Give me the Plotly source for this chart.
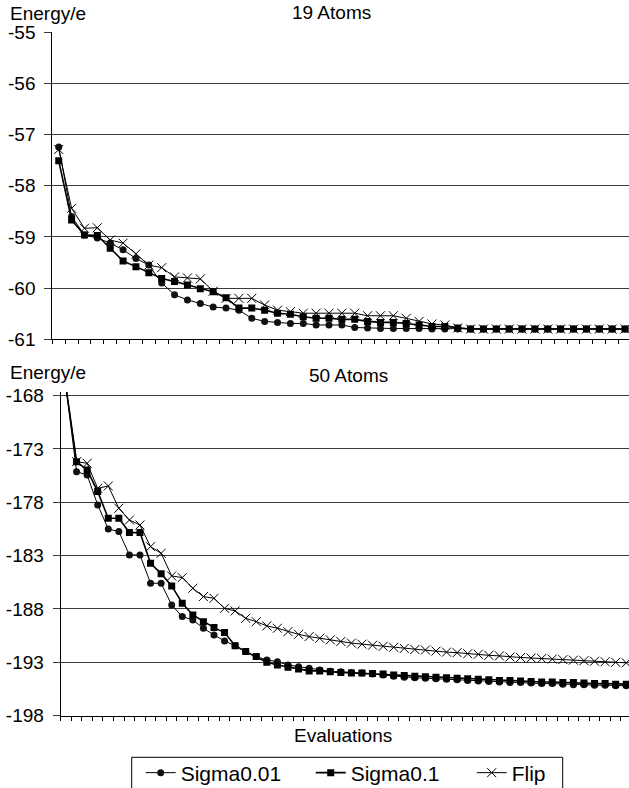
import plotly.graph_objects as go

W, H = 629, 788

# ---------------- data ----------------
evals_19 = list(range(45))
sigma001_19 = [-57.24, -58.60, -58.96, -59.02, -59.12, -59.25, -59.42, -59.55, -59.90, -60.13,
               -60.23, -60.30, -60.37, -60.39, -60.43, -60.59, -60.65, -60.67, -60.69, -60.69,
               -60.72, -60.72, -60.72, -60.77, -60.78, -60.79, -60.79, -60.79, -60.79, -60.80,
               -60.80, -60.80, -60.80, -60.80, -60.80, -60.80, -60.80, -60.80, -60.80, -60.80,
               -60.80, -60.80, -60.80, -60.80, -60.80]
sigma01_19 = [-57.51, -58.67, -58.96, -58.97, -59.22, -59.47, -59.58, -59.70, -59.81, -59.87,
              -59.94, -60.01, -60.07, -60.19, -60.39, -60.39, -60.43, -60.49, -60.51, -60.56,
              -60.59, -60.59, -60.61, -60.61, -60.65, -60.67, -60.67, -60.69, -60.72, -60.75,
              -60.75, -60.78, -60.80, -60.80, -60.80, -60.80, -60.80, -60.80, -60.80, -60.80,
              -60.80, -60.80, -60.80, -60.80, -60.80]
flip_19 = [-57.29, -58.44, -58.83, -58.82, -59.06, -59.12, -59.33, -59.55, -59.60, -59.78,
           -59.80, -59.82, -60.06, -60.20, -60.20, -60.20, -60.33, -60.43, -60.46, -60.49,
           -60.49, -60.49, -60.49, -60.49, -60.54, -60.54, -60.54, -60.59, -60.65, -60.70,
           -60.72, -60.78, -60.80, -60.80, -60.80, -60.80, -60.80, -60.80, -60.80, -60.80,
           -60.80, -60.80, -60.80, -60.80, -60.80]

evals_50 = list(range(54))
sigma001_50 = [-167.2, -175.13, -175.44, -178.25, -180.50, -180.75, -182.94, -182.94, -185.59, -185.59,
               -187.63, -188.72, -189.03, -189.81, -190.44, -191.00, -191.44, -192.00, -192.47, -192.78,
               -192.94, -193.25, -193.41, -193.56, -193.72, -193.85, -193.90, -193.95, -194.00, -194.10,
               -194.20, -194.30, -194.40, -194.45, -194.50, -194.55, -194.60, -194.65, -194.70, -194.75,
               -194.80, -194.85, -194.90, -194.90, -194.95, -195.00, -195.00, -195.05, -195.10, -195.10,
               -195.15, -195.15, -195.20, -195.20]
sigma01_50 = [-167.2, -174.19, -174.97, -177.00, -179.50, -179.50, -180.84, -180.84, -183.72, -184.69,
              -185.84, -187.47, -188.56, -189.19, -189.75, -190.22, -191.44, -192.00, -192.47, -193.00,
              -193.25, -193.47, -193.62, -193.81, -193.81, -193.90, -193.95, -194.00, -194.00, -194.05,
              -194.10, -194.20, -194.25, -194.30, -194.35, -194.40, -194.45, -194.50, -194.55, -194.60,
              -194.65, -194.70, -194.70, -194.75, -194.80, -194.85, -194.85, -194.90, -194.90, -194.95,
              -195.00, -195.00, -195.05, -195.05]
flip_50 = [-167.2, -174.19, -174.34, -176.69, -176.47, -178.56, -179.66, -180.13, -182.16, -182.78,
           -184.91, -185.06, -186.06, -186.84, -187.00, -187.94, -188.19, -188.88, -189.19, -189.59,
           -189.81, -190.13, -190.38, -190.59, -190.75, -190.90, -191.05, -191.20, -191.30, -191.40,
           -191.50, -191.60, -191.70, -191.80, -191.85, -191.95, -192.05, -192.10, -192.20, -192.25,
           -192.35, -192.40, -192.50, -192.55, -192.60, -192.65, -192.70, -192.75, -192.80, -192.85,
           -192.90, -192.95, -193.00, -193.05]

series_names = ["Sigma0.01", "Sigma0.1", "Flip"]
y_ticks_19 = [-61, -60, -59, -58, -57, -56, -55]
y_ticks_50 = [-198, -193, -188, -183, -178, -173, -168]

FONT = "Liberation Sans, Arial, sans-serif"


def px_x(p):
    return p / W


def px_y(p):
    return 1 - p / H


styles = [
    dict(mode="lines+markers", line=dict(color="#000", width=1),
         marker=dict(symbol="circle", size=7, color="#111")),
    dict(mode="lines+markers", line=dict(color="#000", width=1.6),
         marker=dict(symbol="square", size=7, color="#000")),
    dict(mode="lines+markers", line=dict(color="#000", width=1),
         marker=dict(symbol="x-thin", size=9, line=dict(color="#000", width=1))),
]
legend_ids = ["legend", "legend2", "legend3"]
# left edge of each legend entry (text starts ~41 px to the right)
legend_left_px = [140.7, 310.7, 471.7]

fig = go.Figure()
for name, ys, st, lg in zip(series_names, [sigma001_19, sigma01_19, flip_19], styles, legend_ids):
    fig.add_trace(go.Scatter(x=evals_19, y=ys, name=name, xaxis="x", yaxis="y",
                             showlegend=True, legend=lg, **st))
for name, ys, st in zip(series_names, [sigma001_50, sigma01_50, flip_50], styles):
    fig.add_trace(go.Scatter(x=evals_50, y=ys, name=name, xaxis="x2", yaxis="y2",
                             showlegend=False, **st))

axis_common = dict(showline=True, linecolor="#000", linewidth=1, zeroline=False,
                   tickfont=dict(family=FONT, size=19, color="#000"))

legend_common = dict(orientation="h", yanchor="middle", xanchor="left",
                     y=px_y(773), bgcolor="rgba(0,0,0,0)", borderwidth=0,
                     font=dict(family=FONT, size=21, color="#000"), itemwidth=30)

fig.update_layout(
    width=W, height=H,
    margin=dict(l=0, r=0, t=0, b=0, autoexpand=False),
    paper_bgcolor="white", plot_bgcolor="white",
    font=dict(family=FONT, size=19, color="#000"),
    xaxis=dict(domain=[px_x(52.3), 1], range=[-0.5, 44.31], anchor="y",
               showgrid=False, ticks="outside", ticklen=4, tickcolor="#000",
               tick0=0.5, dtick=1, showticklabels=False, **axis_common),
    yaxis=dict(domain=[px_y(339.3), px_y(32.3)], range=[-61, -55], anchor="x",
               tickvals=y_ticks_19, ticktext=[str(v) for v in y_ticks_19],
               showgrid=True, gridcolor="#3a3a3a", gridwidth=1,
               ticks="outside", ticklen=7, tickcolor="#3a3a3a",
               ticklabelstandoff=5, **axis_common),
    xaxis2=dict(domain=[px_x(60.7), 1], range=[-0.5, 53.26], anchor="y2",
                showgrid=False, ticks="outside", ticklen=4, tickcolor="#000",
                tick0=0.5, dtick=1, showticklabels=False, **axis_common),
    yaxis2=dict(domain=[px_y(715.6), px_y(391.9)], range=[-198, -167.65], anchor="x2",
                tickvals=y_ticks_50, ticktext=[str(v) for v in y_ticks_50],
                showgrid=True, gridcolor="#3a3a3a", gridwidth=1,
                ticks="outside", ticklen=7, tickcolor="#3a3a3a",
                ticklabelstandoff=5, **axis_common),
    legend=dict(x=px_x(legend_left_px[0]), **legend_common),
    legend2=dict(x=px_x(legend_left_px[1]), **legend_common),
    legend3=dict(x=px_x(legend_left_px[2]), **legend_common),
    showlegend=True,
)

# legend frame (bottom edge lies beyond the picture, as in the reference)
fig.add_shape(type="rect", xref="paper", yref="paper",
              x0=px_x(131.7), x1=px_x(562.7), y0=px_y(800), y1=px_y(757.3),
              line=dict(color="#000", width=1), fillcolor="rgba(0,0,0,0)", layer="below")

annots = [
    dict(text="Energy/e", x=px_x(8), y=px_y(14), xanchor="left", yanchor="middle"),
    dict(text="19 Atoms", x=px_x(331.5), y=px_y(13), xanchor="center", yanchor="middle"),
    dict(text="Energy/e", x=px_x(8), y=px_y(372), xanchor="left", yanchor="middle"),
    dict(text="50 Atoms", x=px_x(348.7), y=px_y(375), xanchor="center", yanchor="middle"),
    dict(text="Evaluations", x=px_x(343.3), y=px_y(735), xanchor="center", yanchor="middle"),
]
for a in annots:
    fig.add_annotation(xref="paper", yref="paper", showarrow=False,
                       font=dict(family=FONT, size=19, color="#000"), **a)

fig.write_html("out.html",
               config={"displayModeBar": False},
               post_script="document.body.style.margin='0';document.body.style.overflow='hidden';")
